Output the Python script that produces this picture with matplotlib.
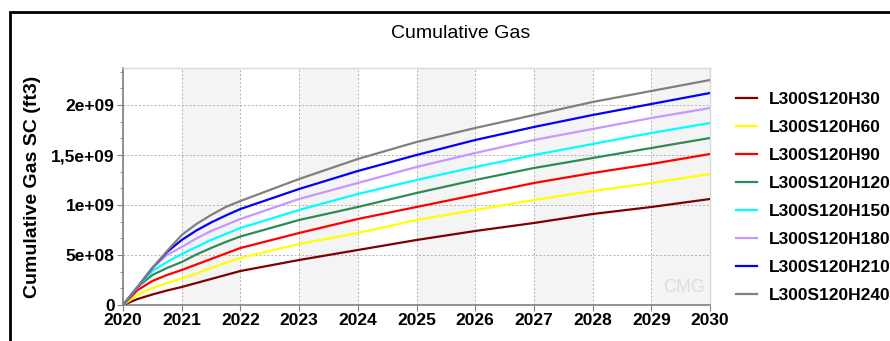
import matplotlib
matplotlib.use("Agg")
import matplotlib.pyplot as plt
import matplotlib.patches as patches
from matplotlib.ticker import AutoMinorLocator
import numpy as np

plt.rcParams['font.family'] = ['Liberation Sans', 'DejaVu Sans']

# time axis (years)
years = [2020, 2020.25, 2020.5, 2020.75, 2021, 2021.25, 2021.5, 2021.75, 2022,
         2023, 2024, 2025, 2026, 2027, 2028, 2029, 2030]

# cumulative gas, 1e9 ft3
h30 = [0, .06, .105, .145, .18, .22, .26, .30, .34, .45, .55, .65, .74, .82, .91, .98, 1.06]
h60 = [0, .10, .17, .22, .265, .315, .37, .42, .47, .61, .72, .85, .95, 1.05, 1.14, 1.22, 1.31]
h90 = [0, .15, .24, .30, .35, .405, .46, .515, .57, .72, .86, .98, 1.10, 1.22, 1.32, 1.41, 1.51]
h120 = [0, .18, .30, .37, .43, .505, .57, .63, .685, .85, .98, 1.12, 1.25, 1.37, 1.47, 1.57, 1.67]
h150 = [0, .18, .34, .43, .51, .58, .65, .71, .77, .95, 1.11, 1.25, 1.38, 1.50, 1.61, 1.72, 1.82]
h180 = [0, .18, .37, .50, .58, .665, .74, .80, .86, 1.06, 1.22, 1.38, 1.52, 1.65, 1.76, 1.87, 1.97]
h210 = [0, .18, .37, .53, .65, .745, .825, .895, .96, 1.16, 1.34, 1.50, 1.65, 1.78, 1.90, 2.01, 2.12]
h240 = [0, .18, .37, .54, .70, .81, .90, .98, 1.04, 1.26, 1.46, 1.63, 1.77, 1.90, 2.03, 2.14, 2.25]

names = ["L300S120H30", "L300S120H60", "L300S120H90", "L300S120H120",
         "L300S120H150", "L300S120H180", "L300S120H210", "L300S120H240"]
series = [h30, h60, h90, h120, h150, h180, h210, h240]
colors = ["#800000", "#ffff00", "#ff0000", "#2e8b57",
          "#00ffff", "#c896ff", "#0000ff", "#808080"]

ytick_vals = [0, 5e8, 1e9, 1.5e9, 2e9]
ytick_labels = ["0", "5e+08", "1e+09", "1,5e+09", "2e+09"]

fig = plt.figure(figsize=(8.9, 3.41), dpi=100)
ax = fig.add_axes([123/890, 1 - 305/341, (710 - 123)/890, (305 - 68)/341])

# alternating shaded years
for y0 in range(2021, 2030, 2):
    ax.axvspan(y0, y0 + 1, color="#f4f4f4", zorder=0, lw=0)

for vals, name, c in zip(series, names, colors):
    ax.plot(years, np.array(vals) * 1e9, color=c, lw=1.6, label=name, zorder=3)

ax.set_xlim(2020, 2030)
ax.set_ylim(0, 2.37e9)
ax.set_xticks(range(2020, 2031))
ax.set_yticks(ytick_vals)
ax.set_yticklabels(ytick_labels)
ax.yaxis.set_minor_locator(AutoMinorLocator(3))
ax.grid(True, which="major", ls=(0, (2, 2)), color="#b0b0b0", lw=0.7, zorder=1)
ax.tick_params(axis="both", which="major", labelsize=12.5, color="#808080",
               length=4, pad=2)
ax.tick_params(axis="y", which="minor", color="#808080", length=2.5)
for lab in ax.get_xticklabels() + ax.get_yticklabels():
    lab.set_fontweight("bold")
for s in ["left", "bottom"]:
    ax.spines[s].set_color("#808080")
    ax.spines[s].set_linewidth(1.2)
for s in ["top", "right"]:
    ax.spines[s].set_color("#d8d8d8")
    ax.spines[s].set_linewidth(1.0)

ax.set_ylabel("Cumulative Gas SC (ft3)", fontsize=14, fontweight="bold", labelpad=7)
fig.text(461/890, 1 - 33/341, "Cumulative Gas", fontsize=14, ha="center", va="center")

# watermark
ax.text(0.955, 0.075, "CMG", transform=ax.transAxes, fontsize=13, color="#dddddd",
        ha="center", va="center", zorder=2)

fig.legend(loc="upper left", bbox_to_anchor=(736/890, 1 - 92/341), frameon=False,
           prop={"size": 12.5, "weight": "bold"}, handlelength=1.2,
           labelspacing=0.74, handletextpad=0.7, borderaxespad=0, borderpad=0)

frame = patches.Rectangle((10/890, -0.2), 1.2, 1.2 - 12/341, transform=fig.transFigure,
                          fill=False, ec="black", lw=2, clip_on=False)
fig.add_artist(frame)

fig.savefig("out.png", dpi=100)
